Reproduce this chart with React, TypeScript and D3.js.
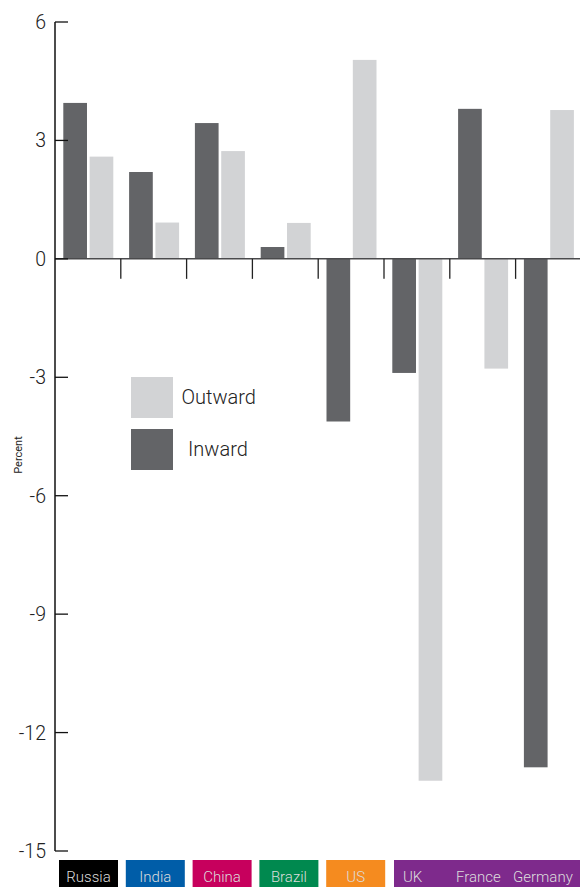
import React from "react";
import * as d3 from "d3";

const categories = ["Russia", "India", "China", "Brazil", "US", "UK", "France", "Germany"];
const inward = [3.95, 2.2, 3.44, 0.3, -4.12, -2.89, 3.8, -12.88];
const outward = [2.59, 0.92, 2.73, 0.91, 5.04, -13.22, -2.78, 3.77];
const yTicks = [6, 3, 0, -3, -6, -9, -12, -15];
const seriesNames = ["Inward", "Outward"];
const boxLabels = ["Russia", "India", "China", "Brazil", "US"];
const boxColors = ["#000000", "#005da8", "#c7005d", "#00894f", "#f58b1f"];
const groupLabels = ["UK", "France", "Germany"];
const groupColor = "#7e2a8c";

const W = 580;
const H = 887;
const INWARD = "#636467";
const OUTWARD = "#d2d3d5";
const FONT = "Roboto, 'Liberation Sans', sans-serif";

export default function App() {
  const y = d3.scaleLinear().domain([-15, 6]).range([851, 22]);
  const x = d3.scaleBand<string>().domain(categories).range([55, 581.4]).padding(0);
  const sub = d3.scaleBand<string>().domain(seriesNames).range([8.3, 58.3]).paddingInner(0.1).paddingOuter(0);
  const boxX = d3.scaleLinear().domain([0, 1]).range([59, 125.8]);
  const boxW = 59;
  const groupStart = boxX(boxLabels.length) + 1;
  const groupTextX = [groupStart + 9, groupStart + 62, groupStart + 119];

  const bar = (v: number) => ({ y: y(Math.max(0, v)), h: Math.abs(y(v) - y(0)) });

  return (
    <svg width={W} height={H} style={{ position: "absolute", left: 0, top: 0, fontFamily: FONT }}>
      <rect x={0} y={0} width={W} height={H} fill="#fff" />
      {categories.map((c, i) => {
        const bi = bar(inward[i]);
        const bo = bar(outward[i]);
        return (
          <g key={c}>
            <rect x={(x(c) as number) + (sub("Inward") as number)} y={bi.y} width={sub.bandwidth()} height={bi.h} fill={INWARD} />
            <rect x={(x(c) as number) + (sub("Outward") as number)} y={bo.y} width={sub.bandwidth()} height={bo.h} fill={OUTWARD} />
          </g>
        );
      })}
      {/* zero line */}
      <line x1={55} x2={W} y1={y(0)} y2={y(0)} stroke="#4a4a4c" strokeWidth={1.5} />
      {/* category separators */}
      {categories.slice(1).map((c) => (
        <line key={c} x1={x(c) as number} x2={x(c) as number} y1={y(0)} y2={y(0) + 20} stroke="#222" strokeWidth={1.3} />
      ))}
      {/* y axis */}
      <line x1={55} x2={55} y1={y(6)} y2={y(-15)} stroke="#111" strokeWidth={1.5} />
      {yTicks.map((t) => (
        <g key={t}>
          <line x1={55} x2={68} y1={y(t)} y2={y(t)} stroke="#111" strokeWidth={1.3} />
          <text x={46} y={y(t) + 7} textAnchor="end" fontSize={19.5} fontWeight={300} fill="#222">
            {t}
          </text>
        </g>
      ))}
      <text transform={`translate(22,455) rotate(-90)`} textAnchor="middle" fontSize={11} fill="#222">
        Percent
      </text>
      {/* legend */}
      <rect x={131} y={377} width={42} height={41} fill={OUTWARD} />
      <text x={181.5} y={404} fontSize={20} fontWeight={300} fill="#222">Outward</text>
      <rect x={131} y={429} width={42} height={41} fill={INWARD} />
      <text x={188} y={456} fontSize={20} fontWeight={300} fill="#222">Inward</text>
      {/* label boxes */}
      {boxLabels.map((l, i) => (
        <g key={l}>
          <rect x={boxX(i)} y={860} width={boxW} height={27} fill={boxColors[i]} />
          <text x={boxX(i) + boxW / 2} y={882} textAnchor="middle" fontSize={15} fontWeight={300} fill="#dcdcdc">
            {l}
          </text>
        </g>
      ))}
      <rect x={groupStart} y={860} width={W - groupStart} height={27} fill={groupColor} />
      {groupLabels.map((l, i) => (
        <text key={l} x={groupTextX[i]} y={882} fontSize={15} fontWeight={300} fill="#dcdcdc">
          {l}
        </text>
      ))}
    </svg>
  );
}
